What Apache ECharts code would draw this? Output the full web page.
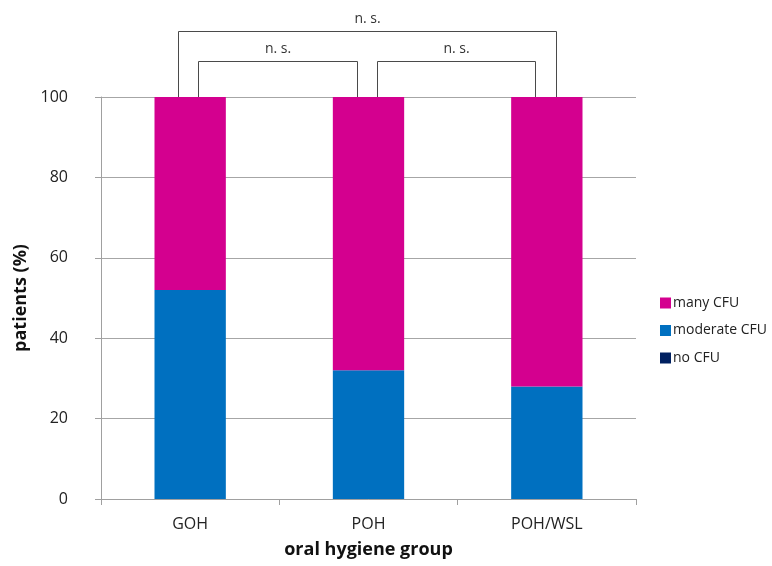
<!DOCTYPE html>
<html>
<head>
<meta charset="utf-8">
<script src="https://cdn.jsdelivr.net/npm/echarts@6/dist/echarts.min.js"></script>
<style>
html,body{margin:0;padding:0;background:#fff;}
#chart{width:772px;height:566px;}
</style>
</head>
<body>
<div id="chart"></div>
<script>
var categories = ['GOH', 'POH', 'POH/WSL'];
var noCFU = [0, 0, 0];
var moderateCFU = [52, 32, 28];
var manyCFU = [48, 68, 72];
var yTicks = [0, 20, 40, 60, 80, 100];
var legendNames = ['many CFU', 'moderate CFU', 'no CFU'];
// significance brackets: [fromCategory, toCategory, nestingLevel]
var brackets = [[0, 1, 1], [1, 2, 1], [0, 2, 2]];
var bracketLabels = ['n. s.', 'n. s.', 'n. s.'];

var FONT = '"Open Sans", "Noto Sans", sans-serif';
var chart = echarts.init(document.getElementById('chart'));

function renderBracket(params, api) {
  var i = params.dataIndex;
  var from = api.value(0), to = api.value(1), level = api.value(2);
  var p0 = api.coord([from, 100]);
  var p1 = api.coord([to, 100]);
  var rise = level === 1 ? 36 : 66;
  var lOff = level === 1 ? 8 : -12;
  var rOff = level === 1 ? -12 : 9;
  var x0 = Math.round(p0[0] + lOff) + 0.5;
  var x1 = Math.round(p1[0] + rOff) + 0.5;
  var yb = Math.round(p0[1]);
  var yt = Math.round(p0[1] - rise) + 0.5;
  return {
    type: 'group',
    children: [
      {
        type: 'polyline',
        shape: { points: [[x0, yb], [x0, yt], [x1, yt], [x1, yb]] },
        style: { stroke: '#4a4a4a', lineWidth: 1, fill: null }
      },
      {
        type: 'text',
        x: (x0 + x1) / 2,
        y: yt - 12.5,
        style: {
          text: bracketLabels[i],
          fill: '#333',
          font: '14px ' + FONT,
          align: 'center',
          verticalAlign: 'middle'
        }
      }
    ]
  };
}

chart.setOption({
  animation: false,
  textStyle: { fontFamily: FONT },
  grid: { left: 101, right: 136, top: 97, bottom: 67, containLabel: false },
  legend: {
    orient: 'vertical',
    left: 655,
    top: 291,
    itemWidth: 11,
    itemHeight: 11,
    itemGap: 13.5,
    icon: 'rect',
    data: legendNames,
    textStyle: { fontSize: 14, color: '#222', lineHeight: 14, fontFamily: FONT, padding: [0, 0, 0, -3] }
  },
  xAxis: {
    type: 'category',
    data: categories,
    axisLine: { show: true, lineStyle: { color: '#a0a0a0', width: 1 } },
    axisTick: { show: true, length: 6, lineStyle: { color: '#a0a0a0' } },
    axisLabel: { fontSize: 16, color: '#222', margin: 17, fontFamily: FONT },
    name: 'oral hygiene group',
    nameLocation: 'middle',
    nameGap: 42,
    nameTextStyle: { fontSize: 18, fontWeight: 'bold', color: '#111', fontFamily: FONT }
  },
  yAxis: {
    type: 'value',
    min: yTicks[0],
    max: yTicks[yTicks.length - 1],
    interval: yTicks[1] - yTicks[0],
    axisLine: { show: true, lineStyle: { color: '#a0a0a0', width: 1 } },
    axisTick: { show: true, length: 6, lineStyle: { color: '#a0a0a0' } },
    axisLabel: { fontSize: 16, color: '#222', margin: 33, fontFamily: FONT },
    splitLine: { show: true, lineStyle: { color: '#a6a6a6', width: 1 } },
    name: 'patients (%)',
    nameLocation: 'middle',
    nameGap: 64,
    nameTextStyle: { fontSize: 18, fontWeight: 'bold', color: '#111', fontFamily: FONT }
  },
  series: [
    { name: 'no CFU', type: 'bar', stack: 'cfu', barWidth: '40%', data: noCFU, itemStyle: { color: '#002060' } },
    { name: 'moderate CFU', type: 'bar', stack: 'cfu', barWidth: '40%', data: moderateCFU, itemStyle: { color: '#0070C0' } },
    { name: 'many CFU', type: 'bar', stack: 'cfu', barWidth: '40%', data: manyCFU, itemStyle: { color: '#D4008F' } },
    {
      type: 'custom',
      silent: true,
      clip: false,
      z: 5,
      renderItem: renderBracket,
      encode: { x: [0, 1], y: -1 },
      data: brackets
    }
  ]
});
</script>
</body>
</html>
